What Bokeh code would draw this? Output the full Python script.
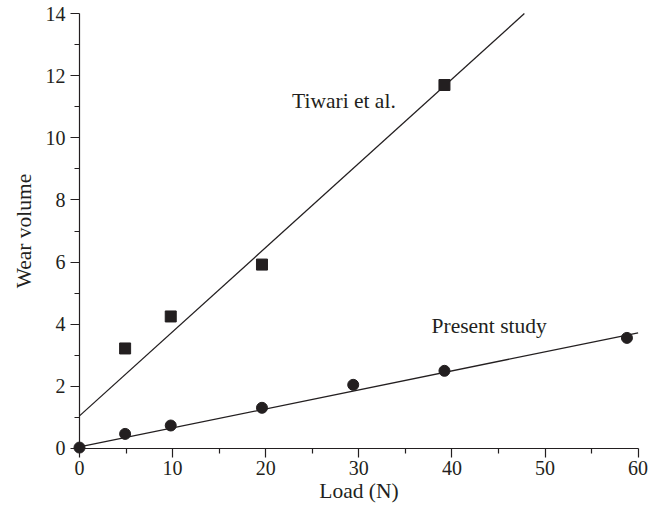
from bokeh.plotting import figure
from bokeh.models import Range1d, Label, FixedTicker
from bokeh.embed import file_html
from bokeh.resources import INLINE

# ---- data ----
present_load = [0.0, 4.9, 9.8, 19.6, 29.4, 39.2, 58.8]
present_wear = [0.03, 0.47, 0.74, 1.31, 2.05, 2.50, 3.56]
tiwari_load = [4.9, 9.8, 19.6, 39.2]
tiwari_wear = [3.22, 4.25, 5.92, 11.70]
present_fit = [0.05, 0.0612]   # intercept, slope
tiwari_fit = [1.05, 0.271]     # intercept, slope
x_ticks = [0, 10, 20, 30, 40, 50, 60]
x_minor = [5, 15, 25, 35, 45, 55]
y_ticks = [0, 2, 4, 6, 8, 10, 12, 14]
y_minor = [1, 3, 5, 7, 9, 11, 13]
x_max, y_max = 60, 14

INK = "#231f20"
FONT = "Liberation Serif"
TICK_SIZE = "20px"
TEXT_SIZE = "21.5px"

# frame covers the whole canvas; axes are pinned at data zero
p = figure(width=662, height=506, output_backend="svg", toolbar_location=None,
           x_range=Range1d(-8.485, 62.62), y_range=Range1d(-1.867, 14.42),
           min_border_left=0, min_border_right=0, min_border_top=0, min_border_bottom=0)
p.outline_line_color = None
p.grid.grid_line_color = None
p.background_fill_color = "white"
p.border_fill_color = "white"

for ax in (p.xaxis[0], p.yaxis[0]):
    ax.fixed_location = 0
    ax.axis_line_color = INK
    ax.axis_line_width = 1.2
    ax.major_tick_line_color = INK
    ax.minor_tick_line_color = INK
    ax.major_tick_line_width = 1.2
    ax.minor_tick_line_width = 1.2
    ax.major_tick_out = 9
    ax.major_tick_in = 0
    ax.minor_tick_out = 5
    ax.minor_tick_in = 0
    ax.major_label_text_font = FONT
    ax.major_label_text_font_size = TICK_SIZE
    ax.major_label_text_color = INK
    ax.axis_label_text_font = FONT
    ax.axis_label_text_font_size = TEXT_SIZE
    ax.axis_label_text_font_style = "normal"
    ax.axis_label_text_color = INK

p.xaxis.bounds = (0, x_max)
p.yaxis.bounds = (0, y_max)
p.xaxis[0].ticker = FixedTicker(ticks=x_ticks, minor_ticks=x_minor)
p.yaxis[0].ticker = FixedTicker(ticks=y_ticks, minor_ticks=y_minor)
p.xaxis.axis_label = "Load (N)"
p.yaxis.axis_label = "Wear volume"
p.xaxis.major_label_standoff = 4
p.yaxis.major_label_standoff = 5
p.xaxis.axis_label_standoff = 0
p.yaxis.axis_label_standoff = 7

# fitted lines
px = [0, x_max]
py = [present_fit[0] + present_fit[1] * v for v in px]
p.line(px, py, line_color=INK, line_width=1.3)
tx_end = (y_max - tiwari_fit[0]) / tiwari_fit[1]
tx = [0, tx_end]
ty = [tiwari_fit[0] + tiwari_fit[1] * v for v in tx]
p.line(tx, ty, line_color=INK, line_width=1.3)

# markers
p.scatter(present_load, present_wear, marker="circle", size=11, fill_color=INK, line_color=INK)
p.scatter(tiwari_load, tiwari_wear, marker="square", size=11, fill_color=INK, line_color=INK)

# annotations
p.add_layout(Label(x=28.4, y=11.2, text="Tiwari et al.", text_font=FONT, text_font_size=TEXT_SIZE,
                   text_color=INK, text_align="center", text_baseline="middle"))
p.add_layout(Label(x=44.0, y=3.93, text="Present study", text_font=FONT, text_font_size=TEXT_SIZE,
                   text_color=INK, text_align="center", text_baseline="middle"))

open("out.html", "w").write(file_html(p, INLINE))
